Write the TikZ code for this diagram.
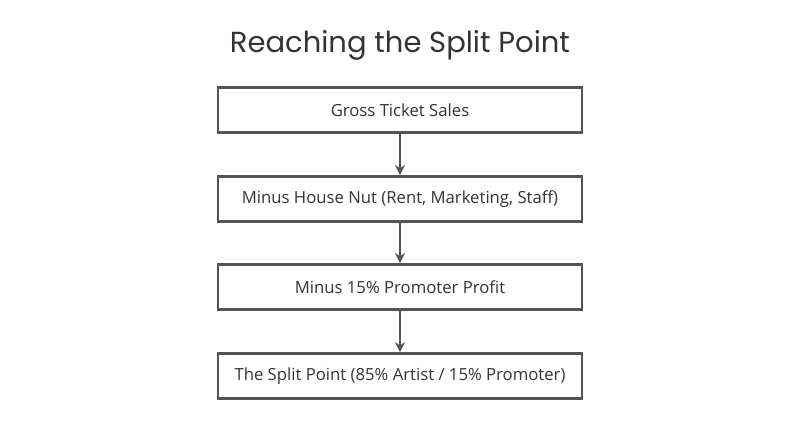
\documentclass[tikz,border=0pt]{standalone}
\usepackage{fontspec}
\setmainfont{Open Sans}
\newfontfamily\titlefont{Poppins}
\usetikzlibrary{arrows.meta}
\definecolor{edge}{HTML}{555555}
\definecolor{ink}{HTML}{333333}
\begin{document}
\begin{tikzpicture}[x=1pt,y=-1pt,
  box/.style={draw=edge,line width=2.8pt,minimum width=364pt,minimum height=45pt,inner sep=0pt,text=ink,font=\fontsize{16.7}{20}\selectfont},
  arr/.style={draw=edge,line width=2.8pt,-{Stealth[length=10pt,width=10pt]}}]
\useasboundingbox (0,0) rectangle (800,447);
\node[text=ink,font=\titlefont\fontsize{29}{34}\selectfont] (title) at (400,45) {Reaching the Split Point};
\node[box] (a) at (400,110) {Gross Ticket Sales};
\node[box] (b) at (400,199) {Minus House Nut (Rent, Marketing, Staff)};
\node[box] (c) at (400,287) {Minus 15\% Promoter Profit};
\node[box] (d) at (400,376) {The Split Point (85\% Artist / 15\% Promoter)};
\draw[arr] (a) -- (b);
\draw[arr] (b) -- (c);
\draw[arr] (c) -- (d);
\end{tikzpicture}
\end{document}
